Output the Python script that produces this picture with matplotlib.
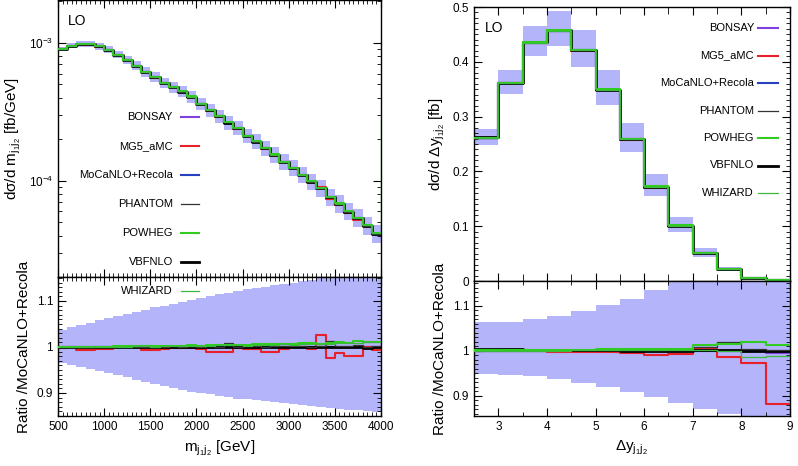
import numpy as np
import matplotlib
matplotlib.use('Agg')
import matplotlib.pyplot as plt
from matplotlib.lines import Line2D
from matplotlib.ticker import MultipleLocator, LogLocator, NullFormatter, FixedLocator

plt.rcParams['font.family'] = ['Liberation Sans', 'DejaVu Sans']
plt.rcParams['mathtext.default'] = 'regular'
plt.rcParams['font.size'] = 10

# ---- m_j1j2 distribution (100 GeV bins, 500..4000) ----
mjj_edges = np.arange(500, 4001, 100)
mjj_ref = np.array([9.0e-4, 9.55e-4, 9.8e-4, 9.77e-4, 9.44e-4, 8.91e-4, 8.22e-4, 7.5e-4,
                    6.84e-4, 6.17e-4, 5.62e-4, 5.13e-4, 4.79e-4, 4.43e-4, 4.07e-4, 3.61e-4,
                    3.26e-4, 2.95e-4, 2.64e-4, 2.40e-4, 2.11e-4, 1.92e-4, 1.72e-4, 1.54e-4,
                    1.37e-4, 1.23e-4, 1.10e-4, 9.84e-5, 8.81e-5, 7.57e-5, 6.77e-5, 5.96e-5,
                    5.33e-5, 4.69e-5, 4.10e-5])
mjj_band_hi = np.array([1.037, 1.043, 1.048, 1.053, 1.058, 1.062, 1.067, 1.072, 1.077, 1.081,
                        1.086, 1.090, 1.094, 1.098, 1.102, 1.106, 1.110, 1.114, 1.118, 1.121,
                        1.125, 1.128, 1.131, 1.134, 1.137, 1.140, 1.143, 1.146, 1.149, 1.152,
                        1.155, 1.158, 1.161, 1.164, 1.167])
mjj_band_lo = np.array([0.965, 0.961, 0.957, 0.952, 0.948, 0.944, 0.939, 0.934, 0.929, 0.924,
                        0.919, 0.915, 0.911, 0.907, 0.903, 0.900, 0.897, 0.894, 0.891, 0.888,
                        0.886, 0.884, 0.882, 0.880, 0.878, 0.876, 0.874, 0.872, 0.870, 0.868,
                        0.866, 0.864, 0.862, 0.860, 0.858])
mjj_ratio = {
    'BONSAY': [1.0, 1.0, 1.0, 1.0, 1.0, 1.001, 1.0, 1.0, 1.0, 1.0, 1.0, 1.001, 1.0, 1.0, 1.0,
               1.0, 1.001, 1.0, 1.0, 1.0, 1.001, 1.0, 1.0, 1.0, 1.001, 1.0, 1.0, 1.0, 1.001,
               1.0, 1.0, 1.001, 1.0, 1.0, 1.0],
    'MG5_aMC': [0.998, 0.999, 0.994, 0.994, 0.995, 0.996, 1.0, 1.0, 1.0, 0.994, 0.994, 0.996,
                0.998, 0.998, 0.998, 0.996, 0.989, 0.989, 0.989, 0.997, 0.996, 0.996, 0.989,
                0.989, 0.995, 1.0, 1.0, 0.996, 1.025, 0.975, 0.987, 0.980, 0.980, 1.0, 0.993],
    'MoCaNLO+Recola': [1.0] * 35,
    'PHANTOM': [1.001, 1.0, 1.001, 1.0, 1.001, 1.001, 1.002, 1.001, 1.001, 1.0, 1.001, 1.001,
                1.002, 1.001, 1.002, 1.001, 1.002, 1.001, 1.008, 1.001, 1.002, 1.002, 1.001,
                1.002, 1.002, 1.003, 1.002, 1.001, 1.003, 1.012, 1.003, 1.002, 1.004, 1.0, 1.002],
    'POWHEG': [1.0, 1.0, 1.0, 1.001, 1.001, 1.001, 1.002, 1.002, 1.002, 1.003, 1.002, 1.003,
               1.003, 1.003, 1.004, 1.003, 1.004, 1.004, 1.005, 1.005, 1.005, 1.006, 1.006,
               1.007, 1.006, 1.007, 1.008, 1.008, 1.006, 1.008, 1.010, 1.008, 1.014, 1.010, 1.010],
    'VBFNLO': [1.001, 1.001, 1.001, 1.001, 1.001, 1.001, 1.001, 1.001, 1.001, 1.001, 1.001,
               1.001, 1.001, 1.001, 1.001, 1.001, 1.001, 1.001, 1.001, 1.001, 1.001, 1.001,
               1.001, 1.001, 1.001, 1.001, 1.001, 1.001, 1.001, 1.001, 1.001, 1.001, 1.001,
               0.998, 1.001],
    'WHIZARD': [1.0, 1.0, 0.999, 1.0, 1.001, 1.0, 1.001, 1.001, 1.002, 1.002, 1.001, 1.002,
                1.002, 1.003, 1.003, 1.003, 1.003, 1.004, 1.004, 1.004, 1.003, 1.005, 1.005,
                1.005, 1.006, 1.005, 1.006, 1.007, 1.007, 1.006, 1.008, 1.009, 1.008, 1.010, 1.011],
}
whizard_overflow = 2.8e-4  # WHIZARD bin just above 4000 GeV

# ---- Delta y_j1j2 distribution (0.5 bins, 2.5..9) ----
dy_edges = np.arange(2.5, 9.01, 0.5)
dy_ref = np.array([0.261, 0.361, 0.435, 0.457, 0.421, 0.349, 0.259, 0.172, 0.101, 0.051,
                   0.0215, 0.006, 0.0012])
dy_band_hi = np.array([1.063, 1.065, 1.070, 1.077, 1.089, 1.101, 1.116, 1.135, 1.16, 1.18,
                       1.20, 1.22, 1.25])
dy_band_lo = np.array([0.949, 0.947, 0.943, 0.9375, 0.929, 0.920, 0.909, 0.897, 0.885, 0.871,
                       0.859, 0.845, 0.83])
dy_ratio = {
    'BONSAY': [1.0, 1.0, 1.0, 1.0, 1.0, 1.0, 1.0, 1.0, 1.0, 1.001, 1.0, 1.0, 0.995],
    'MG5_aMC': [0.999, 0.999, 0.999, 0.998, 0.997, 0.998, 0.995, 0.991, 0.992, 1.004, 0.985,
                0.972, 0.882],
    'MoCaNLO+Recola': [1.0] * 13,
    'PHANTOM': [1.003, 1.002, 1.002, 1.001, 1.001, 1.001, 1.002, 1.002, 1.003, 1.008, 1.02,
                1.003, 1.001],
    'POWHEG': [1.002, 1.002, 1.002, 1.002, 1.002, 1.003, 1.004, 1.004, 1.005, 1.012, 1.014,
               1.02, 1.012],
    'VBFNLO': [1.004, 1.003, 1.002, 1.002, 1.001, 1.001, 1.0, 1.0, 1.0, 1.001, 1.001, 1.0, 1.0],
    'WHIZARD': [1.0, 1.0, 1.0, 1.0, 1.001, 1.001, 1.001, 1.001, 1.001, 1.002, 1.0, 0.985, 0.988],
}

generators = ['BONSAY', 'MG5_aMC', 'MoCaNLO+Recola', 'PHANTOM', 'POWHEG', 'VBFNLO', 'WHIZARD']
styles = {
    'BONSAY': dict(color='#8040e0', lw=1.5),
    'MG5_aMC': dict(color='#e8202a', lw=1.5),
    'MoCaNLO+Recola': dict(color='#2840c0', lw=1.5),
    'PHANTOM': dict(color='#333333', lw=0.9),
    'POWHEG': dict(color='#30cc20', lw=1.5),
    'VBFNLO': dict(color='black', lw=2.0),
    'WHIZARD': dict(color='#3cb83c', lw=0.9),
}
draw_order = ['BONSAY', 'MoCaNLO+Recola', 'MG5_aMC', 'VBFNLO', 'PHANTOM', 'POWHEG', 'WHIZARD']
band_color = '#b4b4fa'
TICK_FS = 8.5
LABEL_FS = 11


def step(ax, edges, vals, **kw):
    v = np.append(vals, vals[-1])
    ax.step(edges, v, where='post', **kw)


def band(ax, edges, lo, hi):
    ax.fill_between(edges, np.append(lo, lo[-1]), np.append(hi, hi[-1]),
                    step='post', color=band_color, lw=0, zorder=1)


def style_axes(ax):
    ax.tick_params(which='both', direction='in', top=True, right=True, labelsize=TICK_FS)
    ax.tick_params(which='major', length=6)
    ax.tick_params(which='minor', length=3)
    for s in ax.spines.values():
        s.set_linewidth(1.0)


W, H = 798, 466
fig = plt.figure(figsize=(W / 100, H / 100), dpi=100)


def px_axes(x0, y0, x1, y1):
    return fig.add_axes([x0 / W, 1 - y1 / H, (x1 - x0) / W, (y1 - y0) / H])


# ---------------- left panel ----------------
axl = px_axes(58, 0, 381, 277)
axlr = px_axes(58, 277, 381, 416)

band(axl, mjj_edges, mjj_ref * mjj_band_lo, mjj_ref * mjj_band_hi)
for g in draw_order:
    vals = mjj_ref * np.array(mjj_ratio[g])
    if g == 'WHIZARD':
        e = np.append(mjj_edges, 4100)
        step(axl, e, np.append(vals, whizard_overflow), zorder=3, **styles[g])
    else:
        step(axl, mjj_edges, vals, zorder=3, **styles[g])
axl.set_yscale('log')
axl.set_xlim(500, 4000)
axl.set_ylim(2.0e-5, 2.05e-3)
axl.xaxis.set_major_locator(MultipleLocator(500))
axl.xaxis.set_minor_locator(MultipleLocator(50))
axl.xaxis.set_major_formatter(NullFormatter())
axl.yaxis.set_major_locator(FixedLocator([1e-4, 1e-3]))
axl.yaxis.set_minor_locator(LogLocator(subs=np.arange(2, 10)))
axl.yaxis.set_minor_formatter(NullFormatter())
axl.set_yticklabels(['$10^{-4}$', '$10^{-3}$'])
axl.set_ylabel('dσ/d m$_{j_1j_2}$ [fb/GeV]', fontsize=LABEL_FS)
style_axes(axl)
axl.text(0.03, 0.95, 'LO', transform=axl.transAxes, fontsize=10, va='top')

band(axlr, mjj_edges, mjj_band_lo, mjj_band_hi)
for g in draw_order:
    step(axlr, mjj_edges, np.array(mjj_ratio[g]), zorder=3, **styles[g])
axlr.set_xlim(500, 4000)
axlr.set_ylim(0.85, 1.152)
axlr.xaxis.set_major_locator(MultipleLocator(500))
axlr.xaxis.set_minor_locator(MultipleLocator(50))
axlr.yaxis.set_major_locator(FixedLocator([0.9, 1.0, 1.1]))
axlr.yaxis.set_minor_locator(MultipleLocator(0.01))
axlr.set_yticklabels(['0.9', '1', '1.1'])
axlr.set_xlabel('m$_{j_1j_2}$ [GeV]', fontsize=LABEL_FS)
axlr.set_ylabel('Ratio /MoCaNLO+Recola', fontsize=LABEL_FS)
style_axes(axlr)

# ---------------- right panel ----------------
axr = px_axes(474, 7, 790, 281)
axrr = px_axes(474, 281, 790, 416)

band(axr, dy_edges, dy_ref * dy_band_lo, dy_ref * dy_band_hi)
for g in draw_order:
    step(axr, dy_edges, dy_ref * np.array(dy_ratio[g]), zorder=3, **styles[g])
axr.set_xlim(2.5, 9)
axr.set_ylim(0, 0.5)
axr.xaxis.set_major_locator(MultipleLocator(1))
axr.xaxis.set_minor_locator(MultipleLocator(0.5))
axr.xaxis.set_major_formatter(NullFormatter())
axr.yaxis.set_major_locator(FixedLocator([0, 0.1, 0.2, 0.3, 0.4, 0.5]))
axr.yaxis.set_minor_locator(MultipleLocator(0.01))
axr.set_yticklabels(['0', '0.1', '0.2', '0.3', '0.4', '0.5'])
axr.set_ylabel('dσ/d Δy$_{j_1j_2}$ [fb]', fontsize=LABEL_FS)
style_axes(axr)
axr.tick_params(axis='x', which='minor', length=5)
axr.text(0.035, 0.95, 'LO', transform=axr.transAxes, fontsize=10, va='top')

band(axrr, dy_edges, dy_band_lo, dy_band_hi)
for g in draw_order:
    step(axrr, dy_edges, np.array(dy_ratio[g]), zorder=3, **styles[g])
axrr.set_xlim(2.5, 9)
axrr.set_ylim(0.855, 1.155)
axrr.xaxis.set_major_locator(MultipleLocator(1))
axrr.xaxis.set_minor_locator(MultipleLocator(0.5))
axrr.yaxis.set_major_locator(FixedLocator([0.9, 1.0, 1.1]))
axrr.yaxis.set_minor_locator(MultipleLocator(0.01))
axrr.set_yticklabels(['0.9', '1', '1.1'])
axrr.set_xlabel('Δy$_{j_1j_2}$', fontsize=LABEL_FS)
axrr.set_ylabel('Ratio /MoCaNLO+Recola', fontsize=LABEL_FS)
style_axes(axrr)

# ---------------- hand-placed legends ----------------
def legend(x_text, x0, x1, y_first, dy):
    for i, g in enumerate(generators):
        y = y_first + i * dy
        fig.text(x_text / W, 1 - y / H, g, ha='right', va='center', fontsize=8)
        fig.add_artist(Line2D([x0 / W, x1 / W], [1 - y / H, 1 - y / H],
                              transform=fig.transFigure, **styles[g]))


legend(173, 181, 199, 117, 29)
legend(754, 758, 778, 28, 27.5)

fig.savefig('out.png', dpi=100)
